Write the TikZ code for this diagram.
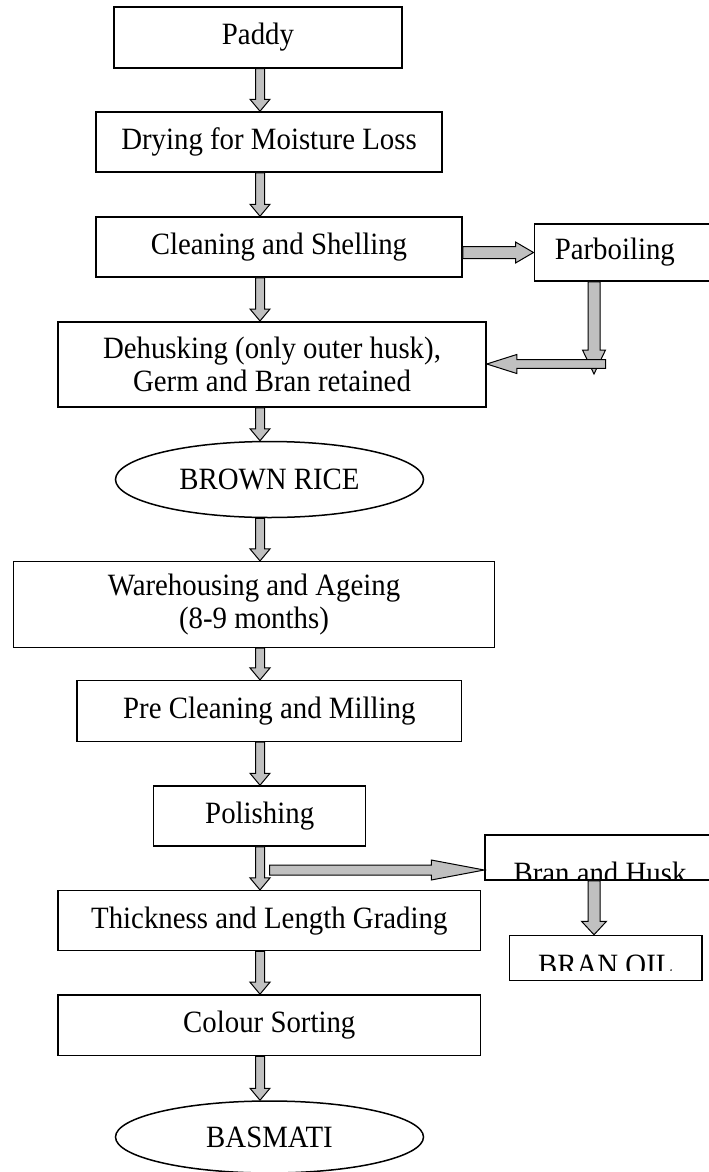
\documentclass[tikz,border=0pt]{standalone}
\usepackage{fontspec}
\setmainfont{Liberation Serif}[FakeStretch=0.93]
\usetikzlibrary{shapes.geometric,calc}
\definecolor{arrgray}{RGB}{192,192,192}
% block arrows: #1 start, #2 tip, #3 shaft half width, #4 head half width, #5 head length
\newcommand\barrowdown[5]{\path[blk] let \p1=#1, \p2=#2 in
  (\x1-#3,\y1) -- (\x1-#3,\y2+#5) -- (\x1-#4,\y2+#5) -- (\x1,\y2) --
  (\x1+#4,\y2+#5) -- (\x1+#3,\y2+#5) -- (\x1+#3,\y1) -- cycle;}
\newcommand\barrowright[5]{\path[blk] let \p1=#1, \p2=#2 in
  (\x1,\y1+#3) -- (\x2-#5,\y1+#3) -- (\x2-#5,\y1+#4) -- (\x2,\y1) --
  (\x2-#5,\y1-#4) -- (\x2-#5,\y1-#3) -- (\x1,\y1-#3) -- cycle;}
\newcommand\barrowleft[5]{\path[blk] let \p1=#1, \p2=#2 in
  (\x1,\y1+#3) -- (\x2+#5,\y1+#3) -- (\x2+#5,\y1+#4) -- (\x2,\y1) --
  (\x2+#5,\y1-#4) -- (\x2+#5,\y1-#3) -- (\x1,\y1-#3) -- cycle;}
\begin{document}
\begin{tikzpicture}[x=1pt,y=-1pt,
  txt/.style={font=\fontsize{31}{32.5}\selectfont},
  box/.style={draw,line width=1.5pt,inner sep=0pt,align=center,txt},
  oval/.style={ellipse,draw,line width=1.5pt,inner sep=0pt,txt},
  blk/.style={draw=black,fill=arrgray,line width=1pt,line join=miter}]
\useasboundingbox (0,0) rectangle (709,1172);
\clip (0,0) rectangle (709,1172);
\coordinate (col) at (260,0);
\coordinate (vx) at (594,0);
% main column
\node[box,minimum width=288,minimum height=61] (paddy) at (258,37.5) {Paddy};
\node[box,minimum width=346,minimum height=60] (drying) at (269,142) {Drying for Moisture Loss};
\node[box,minimum width=366,minimum height=60] (clean) at (279,247) {Cleaning and Shelling};
\node[box,anchor=west,text width=189.5,inner xsep=20.5,align=left,minimum height=57] (parb) at (533.5,252.5) {Parboiling};
\node[box,minimum width=428,minimum height=85.3] (dehusk) at (272,364.4) {Dehusking (only outer husk),\\Germ and Bran retained};
\node[oval,minimum width=308,minimum height=76] (brown) at (269.5,479.5) {BROWN RICE};
\node[box,minimum width=480.6,minimum height=85.6] (ware) at (254,604.5) {Warehousing and Ageing\\(8-9 months)};
\node[box,minimum width=384.8,minimum height=60.6] (precl) at (269.3,711) {Pre Cleaning and Milling};
\node[box,minimum width=212,minimum height=60] (polish) at (259.7,816) {Polishing};
\node[box,minimum width=422.6,minimum height=60] (thick) at (269.3,920.7) {Thickness and Length Grading};
\node[box,minimum width=422.6,minimum height=60.7] (colour) at (269.3,1025.3) {Colour Sorting};
\node[oval,minimum width=308,minimum height=72] (basmati) at (269.5,1137) {BASMATI};
% side boxes with clipped text
\node[box,minimum width=230,minimum height=45] (bran) at (600,857.5) {};
\begin{scope}
  \clip (485,835) rectangle (715,879);
  \node[txt,anchor=base,inner sep=0pt] (branlbl) at (600,883.8) {Bran and Husk};
\end{scope}
\node[box,minimum width=192.4,minimum height=45] (oil) at (605.8,958) {};
\begin{scope}
  \clip (509.6,935.5) rectangle (702,970);
  \node[txt,anchor=base,inner sep=0pt] (oillbl) at (605.8,975.5) {BRAN OIL};
\end{scope}
% main arrows
\barrowdown{(col |- paddy.south)}{(col |- drying.north)}{4.5pt}{10pt}{12pt}
\barrowdown{(col |- drying.south)}{(col |- clean.north)}{4.5pt}{10pt}{12pt}
\barrowdown{(col |- clean.south)}{(col |- dehusk.north)}{4.5pt}{10pt}{12pt}
\barrowdown{(col |- dehusk.south)}{(col |- brown.north)}{4.5pt}{10pt}{12pt}
\barrowdown{(col |- brown.south)}{(col |- ware.north)}{4.5pt}{10pt}{12pt}
\barrowdown{(col |- ware.south)}{(col |- precl.north)}{4.5pt}{10pt}{12pt}
\barrowdown{(col |- precl.south)}{(col |- polish.north)}{4.5pt}{10pt}{12pt}
\barrowdown{(col |- polish.south)}{(col |- thick.north)}{4.5pt}{10pt}{12pt}
\barrowdown{(col |- thick.south)}{(col |- colour.north)}{4.5pt}{10pt}{12pt}
\barrowdown{(col |- colour.south)}{(col |- basmati.north)}{4.5pt}{10pt}{12pt}
% side arrows
\barrowright{(clean.east |- parb.west)}{(parb.west)}{6pt}{10.5pt}{18pt}
\coordinate (pj) at (594,374);
\barrowdown{(vx |- parb.south)}{(pj)}{6pt}{11.5pt}{24pt}
\coordinate (pk) at (605.7,364);
\barrowleft{(pk)}{(dehusk.east |- pk)}{4.3pt}{9.5pt}{30pt}
\coordinate (pb) at (269.5,870);
\barrowright{(pb)}{(bran.west |- pb)}{5pt}{10pt}{53pt}
\barrowdown{(vx |- bran.south)}{(vx |- oil.north)}{6pt}{12.5pt}{13.5pt}
\end{tikzpicture}
\end{document}
